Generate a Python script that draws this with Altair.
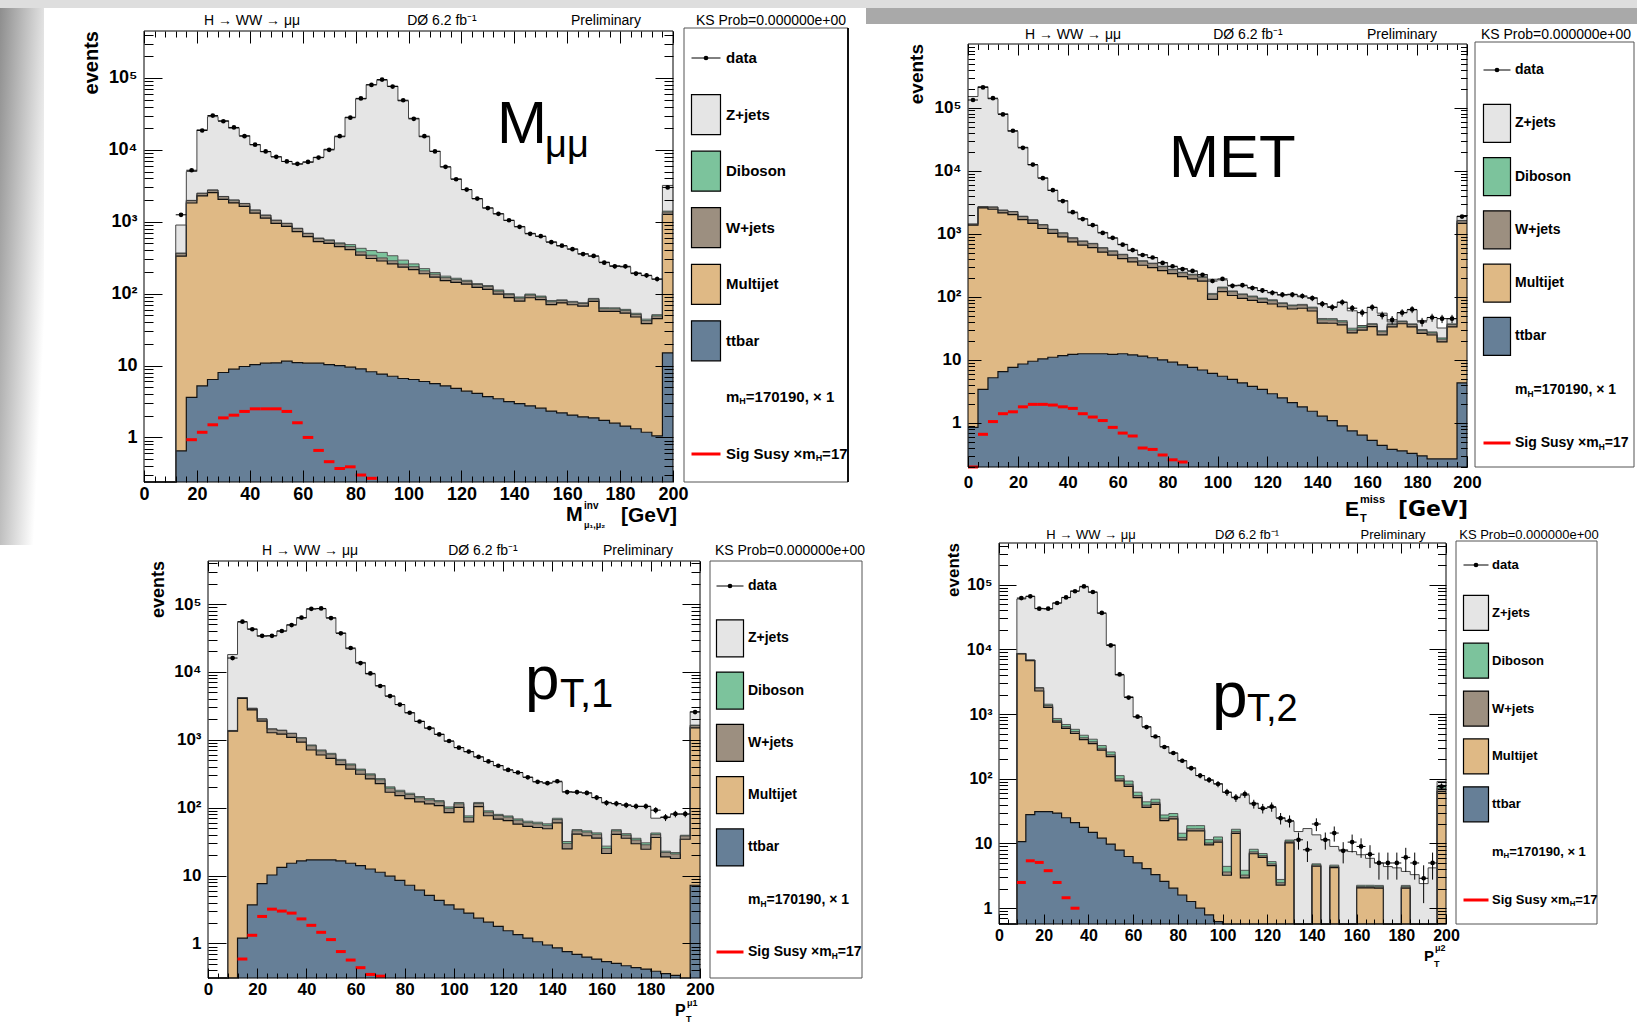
import altair as alt
import numpy as np
import pandas as pd

FONT = "Liberation Sans"
WIDE = "DejaVu Sans"
W, H = 1637, 1023
BIN_LO = list(range(0, 200, 4))
BIN_W = 4
FLOOR = 1e-3

COL = dict(zjets="#e5e5e5", diboson="#7cc39c", wjets="#9c8f80",
           multijet="#dfb985", ttbar="#667f97")

# ---------------- Panel 1 : M_mumu ----------------
m_data = [0, 0, 0, 1250, 5200, 18600, 30000, 25000, 20500, 15500, 11800, 9500, 8000, 6900, 6400, 6800, 7800, 10000, 15500, 28000, 52000, 80000, 95000, 76000, 49000, 27000, 15500, 9500, 5800, 3900, 2800, 2100, 1550, 1290, 1050, 850, 680, 630, 520, 465, 415, 355, 335, 270, 240, 240, 190, 180, 160, 3000]
m_total = [0, 0, 0, 900, 5000, 19000, 29000, 25500, 20000, 15800, 11800, 9400, 8000, 6900, 6300, 6700, 7900, 10200, 15200, 28500, 51000, 81000, 93000, 77000, 48000, 27500, 15200, 9600, 5800, 3950, 2800, 2080, 1560, 1290, 1040, 860, 690, 625, 525, 460, 420, 360, 330, 275, 245, 235, 195, 178, 158, 3200]
m_ttbar = [0, 0, 0, 0.65, 3.6, 5.2, 6.4, 8.0, 8.9, 9.7, 10.3, 10.8, 10.9, 11.5, 11.0, 10.8, 10.8, 10.3, 10.0, 9.5, 9.0, 8.2, 7.6, 7.1, 6.6, 6.4, 6.0, 5.6, 5.2, 4.8, 4.4, 4.1, 3.7, 3.45, 3.15, 2.95, 2.75, 2.55, 2.33, 2.2, 2.05, 1.93, 1.87, 1.73, 1.58, 1.44, 1.32, 1.18, 1.05, 15]
m_multijet = [0, 0, 0, 333, 1820, 2280, 2530, 2040, 1820, 1630, 1310, 1110, 940, 850, 720, 610, 520, 490, 440, 400, 335, 300, 277, 253, 227, 210, 183, 164, 147, 139, 131, 118, 111, 95, 85, 76, 85, 80, 68, 72, 68, 65, 76, 55, 55, 52, 46, 37, 44, 1250]
m_wjets = [0, 0, 0, 30, 150, 200, 220, 190, 170, 150, 130, 110, 95, 85, 75, 65, 55, 50, 45, 42, 38, 34, 30, 27, 24, 21, 19, 17, 15, 14, 13, 12, 11, 10, 9, 8, 8, 7, 7, 6, 6, 6, 6, 5, 5, 5, 4, 4, 4, 100]
m_diboson = [0, 0, 0, 3, 10, 12, 12, 10, 10, 9, 8, 8, 7, 7, 7, 7, 8, 10, 14, 30, 45, 55, 60, 50, 35, 22, 15, 10, 8, 6, 5, 4, 4, 4, 3, 3, 3, 3, 3, 2, 2, 2, 2, 2, 2, 2, 2, 2, 2, 40]
m_signal = [0, 0, 0, 0, 0.93, 1.18, 1.5, 1.87, 2.04, 2.3, 2.5, 2.5, 2.5, 2.3, 1.6, 1.0, 0.66, 0.46, 0.37, 0.39, 0.30, 0.27, 0, 0, 0, 0, 0, 0, 0, 0, 0, 0, 0, 0, 0, 0, 0, 0, 0, 0, 0, 0, 0, 0, 0, 0, 0, 0, 0, 0]

# ---------------- Panel 2 : MET ----------------
e_data = [132000, 209000, 141000, 78000, 43000, 23000, 12500, 7600, 4900, 3300, 2200, 1710, 1370, 1030, 860, 670, 550, 460, 420, 345, 305, 275, 257, 223, 178, 192, 149, 153, 138, 126, 116, 108, 108, 103, 95, 77, 68, 82, 66, 56, 68, 51, 43, 56, 63, 40, 47, 45, 45, 1870]
e_total = [150000, 215000, 138000, 80000, 42000, 23500, 12300, 7700, 4850, 3350, 2150, 1730, 1350, 1050, 850, 680, 545, 465, 415, 350, 300, 280, 255, 225, 190, 185, 152, 150, 140, 125, 118, 106, 110, 100, 97, 78, 70, 82, 60, 35, 68, 55, 40, 56, 62, 42, 47, 32, 45, 1900]
e_ttbar = [0.85, 3.4, 5.2, 6.5, 7.6, 8.6, 9.5, 10.4, 11.0, 11.7, 12.2, 12.5, 12.5, 12.5, 12.2, 12.5, 12.0, 11.5, 10.8, 10.0, 9.2, 8.3, 7.6, 6.9, 6.1, 5.5, 4.9, 4.3, 3.8, 3.4, 2.9, 2.5, 2.1, 1.8, 1.53, 1.28, 1.09, 0.9, 0.75, 0.64, 0.53, 0.44, 0.38, 0.36, 0.33, 0.30, 0.27, 0.27, 0.27, 4.3]
e_multijet = [1370, 2560, 2440, 2130, 2000, 1660, 1450, 1200, 1000, 880, 730, 645, 590, 500, 445, 390, 345, 305, 280, 250, 223, 200, 185, 170, 85, 115, 100, 90, 84, 78, 74, 67, 62, 64, 58, 37, 37, 35, 26, 29, 33, 24.5, 33, 37, 33, 26, 24.5, 19, 33, 1450]
e_wjets = [50, 120, 200, 220, 230, 210, 190, 170, 150, 130, 110, 100, 90, 80, 70, 62, 55, 50, 45, 40, 36, 32, 30, 27, 18, 18, 16, 14, 12, 11, 10, 9, 8, 8, 7, 5, 5, 4, 3, 3, 3, 3, 3, 3, 3, 3, 2, 2, 3, 150]
e_diboson = [5, 10, 12, 14, 15, 16, 16, 16, 15, 14, 13, 12, 11, 10, 9, 8, 7, 7, 6, 6, 5, 5, 5, 4, 4, 4, 3, 3, 3, 3, 3, 2, 2, 2, 2, 2, 2, 2, 2, 2, 1, 1, 1, 1, 1, 1, 1, 1, 1, 20]
e_signal = [0.2, 0.66, 1.05, 1.4, 1.5, 1.8, 1.97, 1.97, 1.92, 1.8, 1.7, 1.4, 1.24, 1.09, 0.85, 0.69, 0.62, 0.40, 0.38, 0.31, 0.26, 0.24, 0, 0, 0, 0, 0, 0, 0, 0, 0, 0, 0, 0, 0, 0, 0, 0, 0, 0, 0, 0, 0, 0, 0, 0, 0, 0, 0, 0]

# ---------------- Panel 3 : pT leading muon ----------------
p1_data = [0, 0, 16000, 55000, 42500, 34000, 34000, 40000, 49000, 63000, 85000, 86000, 62000, 37000, 22500, 13500, 9500, 6200, 4400, 3300, 2500, 1860, 1490, 1200, 960, 765, 670, 560, 480, 415, 360, 330, 280, 240, 230, 245, 170, 170, 165, 141, 118, 115, 109, 105, 105, 92, 72, 81, 81, 2560]
p1_total = [0, 0, 18000, 54000, 43000, 33500, 34000, 40000, 49500, 62000, 84000, 85000, 63000, 37500, 22000, 13800, 9300, 6300, 4400, 3300, 2500, 1880, 1480, 1210, 950, 770, 665, 560, 480, 418, 360, 328, 282, 242, 232, 240, 172, 168, 165, 140, 120, 114, 110, 104, 104, 70, 73, 80, 80, 2600]
p1_ttbar = [0, 0, 0, 1.2, 3.7, 7.6, 10.2, 13.2, 15.2, 16.5, 17, 17, 17, 16.5, 15.2, 14, 12.5, 11.2, 9.8, 8.5, 7.2, 6.1, 5.1, 4.3, 3.7, 3.2, 2.8, 2.36, 2.06, 1.78, 1.54, 1.35, 1.2, 1.06, 0.95, 0.86, 0.76, 0.69, 0.63, 0.59, 0.54, 0.51, 0.47, 0.44, 0.42, 0.39, 0.36, 0.34, 0.27, 7.2]
p1_multijet = [0, 0, 1340, 4070, 2750, 1870, 1260, 1200, 1070, 910, 690, 580, 515, 415, 355, 297, 253, 215, 159, 142, 129, 116, 109, 103, 81, 98, 59, 101, 74, 66, 63, 56, 52, 50, 48, 59, 24, 40, 38, 35, 20.6, 40, 35, 29, 24, 36, 18.5, 17.5, 34, 1490]
p1_wjets = [0, 0, 30, 100, 150, 150, 170, 160, 150, 130, 110, 90, 80, 65, 55, 45, 38, 32, 25, 22, 20, 18, 16, 15, 13, 13, 10, 12, 10, 9, 8, 8, 7, 7, 6, 7, 5, 5, 5, 5, 4, 5, 4, 4, 4, 4, 3, 3, 4, 120]
p1_diboson = [0, 0, 2, 5, 8, 10, 12, 14, 16, 20, 22, 22, 20, 18, 16, 14, 12, 10, 9, 8, 7, 6, 6, 5, 5, 5, 4, 4, 4, 3, 3, 3, 3, 3, 3, 3, 2, 2, 2, 2, 2, 2, 2, 2, 2, 2, 1, 1, 1, 30]
p1_signal = [0, 0, 0, 0.59, 1.32, 2.5, 3.2, 3.0, 2.8, 2.3, 1.85, 1.46, 1.14, 0.76, 0.57, 0.44, 0.35, 0.33, 0, 0, 0, 0, 0, 0, 0, 0, 0, 0, 0, 0, 0, 0, 0, 0, 0, 0, 0, 0, 0, 0, 0, 0, 0, 0, 0, 0, 0, 0, 0, 0]

# ---------------- Panel 4 : pT second muon ----------------
p2_data = [0, 0, 62000, 66000, 42500, 42500, 52000, 63500, 79000, 94000, 77000, 36500, 11500, 4100, 1800, 910, 630, 450, 310, 250, 190, 146, 112, 96, 83, 62, 51, 58, 41, 35, 37, 24.6, 22.4, 11.4, 8, 20, 11.4, 14.5, 7.7, 10.5, 9, 6.8, 5, 5, 5, 6.1, 5, 2.9, 5, 76]
p2_total = [0, 0, 60000, 66000, 43000, 42000, 52000, 63000, 80000, 92000, 76000, 36000, 11800, 4000, 1850, 900, 640, 445, 315, 250, 190, 148, 112, 95, 84, 62, 52, 56, 42, 35, 36, 25, 22, 15.3, 17, 13.6, 11.4, 9, 8, 7.5, 6.7, 5.9, 5, 4.4, 4.2, 3.7, 3.3, 2.4, 4.2, 91]
p2_ttbar = [0, 0, 10.7, 28, 31, 31, 29.5, 25, 21, 17.8, 14.8, 12.1, 9.8, 7.9, 6.3, 5.0, 4.1, 3.3, 2.6, 2.04, 1.6, 1.27, 1.0, 0.79, 0.62, 0.48, 0.38, 0.3, 0.24, 0.19, 0.15, 0.12, 0.1, 0.08, 0.06, 0.05, 0.04, 0.03, 0.03, 0.02, 0.02, 0.02, 0.01, 0.01, 0.01, 0.01, 0.01, 0.01, 0.01, 0.3]
p2_multijet = [0, 0, 8500, 6650, 2240, 1240, 720, 575, 480, 385, 335, 265, 210, 85, 70, 46, 32, 37, 20, 22, 9.8, 14.4, 14.7, 8.7, 9.9, 2.75, 14, 2.65, 6.7, 5.9, 4.4, 2.16, 10.1, 0, 0, 4.4, 0, 4.2, 0, 0, 2.04, 2.04, 2.04, 0, 0, 2.04, 0, 0, 0, 63]
p2_wjets = [0, 0, 100, 150, 250, 90, 50, 40, 35, 28, 24, 19, 15, 7, 6, 4, 3, 3, 2, 2, 1, 1.2, 1.2, 0.7, 0.8, 0.4, 1, 0.3, 0.5, 0.4, 0.3, 0.2, 0.6, 0, 0, 0.2, 0, 0.2, 0, 0, 0.1, 0.1, 0.1, 0, 0, 0.1, 0, 0, 0, 8]
p2_diboson = [0, 0, 30, 40, 50, 60, 55, 50, 45, 40, 35, 30, 25, 12, 10, 7, 5, 5, 3, 3, 2, 2, 2, 1.3, 1.3, 0.8, 1.2, 0.6, 0.7, 0.5, 0.4, 0.3, 0.5, 0, 0, 0.2, 0, 0.2, 0, 0, 0.1, 0.1, 0.1, 0, 0, 0.1, 0, 0, 0, 6]
p2_signal = [0, 0, 2.5, 5.4, 5.1, 3.8, 2.5, 1.45, 1.0, 0.53, 0, 0, 0, 0, 0, 0, 0, 0, 0, 0, 0, 0, 0, 0, 0, 0, 0, 0, 0, 0, 0, 0, 0, 0, 0, 0, 0, 0, 0, 0, 0, 0, 0, 0, 0, 0, 0, 0, 0, 0]

HEADER = ["H \u2192 WW \u2192 \u03bc\u03bc", "D\u00d8 6.2 fb\u207b\u00b9", "Preliminary", "KS Prob=0.000000e+00"]
ENTRIES = ["data", "Z+jets", "Diboson", "W+jets", "Multijet", "ttbar", "mH", "sig"]
BOX_ENTRIES = ["Z+jets", "Diboson", "W+jets", "Multijet", "ttbar"]
BOX_KEYS = ["zjets", "diboson", "wjets", "multijet", "ttbar"]

# text entries: (text, x, y, size, weight, align, font)
PANELS = [
    dict(data=m_data, total=m_total, ttbar=m_ttbar, multijet=m_multijet, wjets=m_wjets, diboson=m_diboson, signal=m_signal,
         plot=(144, 673, 31, 482), ymin=0.24, ymax=4.5e5, tickfont=18, xlabpad=3, ylabpad=7, xt=12, yt=18,
         legend=(684, 28, 848, 482), shadow=True, ly=(58, 454), boxx=706, boxw=29, boxh=40, labx=726, legfont=15,
         header_y=21, header_x=(252, 442, 606, 771), header_font=14, events=(92, 31, 20),
         texts=[("M", 497, 143, 60, "normal", "left", FONT), ("\u03bc\u03bc", 545, 157, 38, "normal", "left", FONT),
                ("M", 566, 521, 20, "bold", "left", FONT), ("inv", 584, 509, 10, "bold", "left", FONT),
                ("\u03bc\u2081,\u03bc\u2082", 584, 528, 9, "bold", "left", FONT),
                ("[GeV]", 677, 522, 21, "bold", "right", FONT)]),
    dict(data=e_data, total=e_total, ttbar=e_ttbar, multijet=e_multijet, wjets=e_wjets, diboson=e_diboson, signal=e_signal,
         plot=(968, 1467, 44, 467), ymin=0.2, ymax=1.02e6, tickfont=17, xlabpad=7, ylabpad=7, xt=11, yt=13,
         legend=(1475, 42, 1634, 467), shadow=False, ly=(70, 443), boxx=1497, boxw=27, boxh=38, labx=1515, legfont=14,
         header_y=35, header_x=(1073, 1248, 1402, 1556), header_font=14, events=(917, 44, 19),
         texts=[("MET", 1169, 177, 60, "normal", "left", FONT),
                ("E", 1345, 516, 21, "bold", "left", FONT), ("miss", 1360, 503, 11, "bold", "left", FONT),
                ("T", 1360, 522, 11, "bold", "left", FONT), ("[GeV]", 1468, 516, 22, "bold", "right", WIDE)]),
    dict(data=p1_data, total=p1_total, ttbar=p1_ttbar, multijet=p1_multijet, wjets=p1_wjets, diboson=p1_diboson, signal=p1_signal,
         plot=(208, 700, 561, 978), ymin=0.31, ymax=4.3e5, tickfont=17, xlabpad=3, ylabpad=7, xt=10, yt=18,
         legend=(710, 561, 862, 978), shadow=False, ly=(586, 952), boxx=730, boxw=27, boxh=37, labx=748, legfont=14,
         header_y=551, header_x=(310, 483, 638, 790), header_font=14, events=(159, 561, 18),
         texts=[("p", 525, 699, 62, "normal", "left", FONT), ("T,1", 560, 707, 40, "normal", "left", FONT),
                ("P", 675, 1016, 16, "bold", "left", FONT), ("\u03bc1", 687, 1006, 9, "bold", "left", FONT),
                ("T", 686, 1022, 9, "bold", "left", FONT)]),
    dict(data=p2_data, total=p2_total, ttbar=p2_ttbar, multijet=p2_multijet, wjets=p2_wjets, diboson=p2_diboson, signal=p2_signal,
         plot=(999, 1446, 543, 924), ymin=0.57, ymax=4.4e5, tickfont=16, xlabpad=3, ylabpad=7, xt=10, yt=17,
         legend=(1456, 541, 1597, 924), shadow=False, ly=(565, 900), boxx=1476, boxw=25, boxh=35, labx=1492, legfont=13,
         header_y=535, header_x=(1091, 1247, 1393, 1529), header_font=13, events=(954, 543, 17),
         texts=[("p", 1212, 717, 64, "normal", "left", FONT), ("T,2", 1247, 721, 38, "normal", "left", FONT),
                ("P", 1424, 961, 15, "bold", "left", FONT), ("\u03bc2", 1435, 951, 9, "bold", "left", FONT),
                ("T", 1434, 967, 9, "bold", "left", FONT)]),
]

ONE = pd.DataFrame({"k": [0]})
BOLD_W = {"m": 0.889, "H": 0.722, "S": 0.667, "i": 0.278, "g": 0.611, " ": 0.278,
          "u": 0.611, "s": 0.556, "y": 0.556, "\u00d7": 0.584}


def textw(s, size):
    return sum(BOLD_W.get(c, 0.556) for c in s) * size


def txt(s, x, y, size, weight="normal", align="left", baseline="alphabetic", angle=0, color="black", font=FONT):
    return alt.Chart(ONE).mark_text(text=s, font=font, fontSize=size, fontWeight=weight, align=align,
                                    baseline=baseline, color=color, angle=angle).encode(
        x=alt.value(x), y=alt.value(y))


def vrect(x0, y0, x1, y1, **kw):
    return alt.Chart(ONE).mark_rect(**kw).encode(x=alt.value(x0), x2=alt.value(x1),
                                                 y=alt.value(y0), y2=alt.value(y1))


YEXPR = ("datum.value < 3 ? '1' : datum.value < 30 ? '10' : datum.value < 300 ? '10\u00b2' : "
         "datum.value < 3000 ? '10\u00b3' : datum.value < 30000 ? '10\u2074' : "
         "datum.value < 300000 ? '10\u2075' : '10\u2076'")


def build_panel(p):
    L, R, T, B = p["plot"]
    xs = alt.Scale(domain=[0, 200], range=[L, R], nice=False, zero=False)
    ys = alt.Scale(type="log", domain=[p["ymin"], p["ymax"]], range=[B, T], nice=False, clamp=True)
    for k in ("ttbar", "multijet", "wjets", "diboson", "total", "data", "signal"):
        assert len(p[k]) == 50, k
    comps = np.vstack([np.array(p[k], dtype=float) for k in ("ttbar", "multijet", "wjets", "diboson")])
    cum = np.cumsum(comps, axis=0)
    tops = [cum[0], cum[1], cum[2], cum[3], np.maximum(np.array(p["total"], dtype=float), cum[3])]
    edges = pd.DataFrame({"x": BIN_LO + [200]})
    edges["c0"] = FLOOR
    for i, t in enumerate(tops):
        t = np.maximum(t, FLOOR)
        edges[f"c{i+1}"] = list(t) + [t[-1]]
    X = alt.X("x:Q", scale=xs, axis=None)
    base = alt.Chart(edges)
    layers = []
    for top, bot, k in [("c1", "c0", "ttbar"), ("c2", "c1", "multijet"), ("c3", "c2", "wjets"),
                        ("c4", "c3", "diboson"), ("c5", "c4", "zjets")]:
        layers.append(base.mark_area(interpolate="step-after", color=COL[k], opacity=1).encode(
            x=X, y=alt.Y(f"{top}:Q", scale=ys, axis=None), y2=alt.Y2(f"{bot}:Q")))
    for col, color, w in [("c1", "#111111", 1.2), ("c2", "#111111", 1.2), ("c3", "#333333", 0.8),
                          ("c4", "#333333", 0.8), ("c5", "#444444", 1.0)]:
        layers.append(base.mark_line(interpolate="step-after", color=color, strokeWidth=w).encode(
            x=X, y=alt.Y(f"{col}:Q", scale=ys, axis=None)))

    # data points with Poisson errors
    d = pd.DataFrame({"lo": BIN_LO, "v": p["data"]})
    d = d[d.v > 0].copy()
    d["hi"] = d.lo + BIN_W
    d["mid"] = d.lo + BIN_W / 2
    dch = alt.Chart(d).transform_calculate(elo=f"max(datum.v - sqrt(datum.v), {FLOOR})",
                                           ehi="datum.v + sqrt(datum.v)")
    layers.append(dch.mark_rule(color="black", strokeWidth=1).encode(
        x=alt.X("mid:Q", scale=xs, axis=None), y=alt.Y("elo:Q", scale=ys, axis=None), y2="ehi:Q"))
    layers.append(alt.Chart(d).mark_rule(color="black", strokeWidth=1).encode(
        x=alt.X("lo:Q", scale=xs, axis=None), x2="hi:Q", y=alt.Y("v:Q", scale=ys, axis=None)))
    layers.append(alt.Chart(d).mark_point(filled=True, color="black", size=22, opacity=1).encode(
        x=alt.X("mid:Q", scale=xs, axis=None), y=alt.Y("v:Q", scale=ys, axis=None)))

    # signal
    s = pd.DataFrame({"lo": BIN_LO, "v": p["signal"]})
    s = s[s.v >= p["ymin"]].copy()
    s["hi"] = s.lo + BIN_W
    layers.append(alt.Chart(s).mark_rule(color="#ff0000", strokeWidth=3).encode(
        x=alt.X("lo:Q", scale=xs, axis=None), x2="hi:Q", y=alt.Y("v:Q", scale=ys, axis=None)))

    # frame
    fr = pd.DataFrame({"x0": [0], "x1": [200], "y0": [p["ymin"]], "y1": [p["ymax"]]})
    layers.append(alt.Chart(fr).mark_rect(fillOpacity=0, stroke="black", strokeWidth=1).encode(
        x=alt.X("x0:Q", scale=xs, axis=None), x2="x1:Q",
        y=alt.Y("y0:Q", scale=ys, axis=None), y2="y1:Q"))

    # axes (inward ticks on all four sides)
    xmaj = list(range(0, 201, 20))
    xmin = [v for v in range(0, 201, 4) if v % 20]
    ydec = [10.0 ** k for k in range(0, 7) if p["ymin"] <= 10.0 ** k < p["ymax"] * 0.9]
    ymn = [m * 10.0 ** k for k in range(-1, 7) for m in range(2, 10) if p["ymin"] <= m * 10.0 ** k <= p["ymax"]]
    xt, yt = p["xt"], p["yt"]
    common = dict(domain=False, grid=False, ticks=True, tickColor="black", tickWidth=1, title=None, zindex=2)
    lab = dict(labelFont=FONT, labelFontSize=p["tickfont"], labelFontWeight="bold", labelColor="black",
               labelFlush=False, labelOverlap=False)

    def ax_layer(xaxis, yaxis):
        return alt.Chart(fr).mark_point(opacity=0).encode(
            x=alt.X("x0:Q", scale=xs, axis=xaxis), y=alt.Y("y0:Q", scale=ys, axis=yaxis))

    layers.append(ax_layer(
        alt.Axis(orient="bottom", values=xmaj, tickSize=xt, offset=B - xt - H, labelPadding=p["xlabpad"],
                 format="d", **lab, **common),
        alt.Axis(orient="left", values=ydec, tickSize=yt, offset=-(L + yt), labelPadding=p["ylabpad"],
                 labelExpr=YEXPR, **lab, **common)))
    layers.append(ax_layer(
        alt.Axis(orient="bottom", values=xmin, tickSize=xt / 2, offset=B - xt / 2 - H, labels=False, **common),
        alt.Axis(orient="left", values=ymn, tickSize=yt / 2, offset=-(L + yt / 2), labels=False, **common)))
    layers.append(ax_layer(
        alt.Axis(orient="top", values=xmaj, tickSize=xt, offset=-(T + xt), labels=False, **common),
        alt.Axis(orient="right", values=ydec, tickSize=yt, offset=R - yt - W, labels=False, **common)))
    layers.append(ax_layer(
        alt.Axis(orient="top", values=xmin, tickSize=xt / 2, offset=-(T + xt / 2), labels=False, **common),
        alt.Axis(orient="right", values=ymn, tickSize=yt / 2, offset=R - yt / 2 - W, labels=False, **common)))

    # legend
    lx0, ly0, lx1, ly1 = p["legend"]
    layers.append(vrect(lx0, ly0, lx1, ly1, fill="white", stroke="#555555", strokeWidth=1))
    if p["shadow"]:
        layers.append(vrect(lx1 - 1, ly0, lx1 + 1, ly1, color="#111111"))
    lys = alt.Scale(type="point", domain=ENTRIES, range=list(p["ly"]), padding=0)
    LY = alt.Y("entry:N", scale=lys, axis=None)
    bw, bh, bx = p["boxw"], p["boxh"], p["boxx"]
    r = bw / bh
    path = f"M{-r:.3f},-1L{r:.3f},-1L{r:.3f},1L{-r:.3f},1Z"
    boxes = pd.DataFrame({"entry": BOX_ENTRIES, "fill": [COL[k] for k in BOX_KEYS]})
    layers.append(alt.Chart(boxes).mark_point(shape=path, filled=True, size=bh * bh, stroke="black",
                                              strokeWidth=1.2, opacity=1).encode(
        x=alt.value(bx), y=LY, fill=alt.Fill("fill:N", scale=None)))
    labs = pd.DataFrame({"entry": ["data"] + BOX_ENTRIES, "label": ["data"] + BOX_ENTRIES})
    layers.append(alt.Chart(labs).mark_text(align="left", baseline="middle", font=FONT, fontSize=p["legfont"],
                                            fontWeight="bold", color="black").encode(
        x=alt.value(p["labx"]), y=LY, text="label:N"))
    dl = pd.DataFrame({"entry": ["data"]})
    layers.append(alt.Chart(dl).mark_rule(color="black", strokeWidth=1).encode(
        x=alt.value(bx - bw / 2), x2=alt.value(bx + bw / 2), y=LY))
    layers.append(alt.Chart(dl).mark_point(filled=True, color="black", size=22, opacity=1).encode(
        x=alt.value(bx), y=LY))
    sl = pd.DataFrame({"entry": ["sig"]})
    layers.append(alt.Chart(sl).mark_rule(color="#ff0000", strokeWidth=3).encode(
        x=alt.value(bx - bw / 2), x2=alt.value(bx + bw / 2), y=LY))
    fs = p["legfont"]
    for entry, head, tail in [("mH", "m", "=170190, \u00d7 1"), ("sig", "Sig Susy \u00d7m", "=17")]:
        ed = pd.DataFrame({"entry": [entry]})
        w1 = textw(head, fs)
        wh = textw("H", fs * 0.6)
        for s_, dx, dy, size in [(head, 0, 0, fs), ("H", w1, 4, fs * 0.6), (tail, w1 + wh, 0, fs)]:
            layers.append(alt.Chart(ed).mark_text(text=s_, align="left", baseline="middle", font=FONT,
                                                  fontSize=size, fontWeight="bold", color="black", dy=dy).encode(
                x=alt.value(p["labx"] + dx), y=LY))

    # header line
    for s_, hx in zip(HEADER, p["header_x"]):
        layers.append(txt(s_, hx, p["header_y"], p["header_font"], align="center", baseline="middle"))
    ex, ey, efs = p["events"]
    layers.append(txt("events", ex, ey, efs, weight="bold", align="right", baseline="middle", angle=270))
    for s_, tx, ty, size, weight, align, font in p["texts"]:
        layers.append(txt(s_, tx, ty, size, weight=weight, align=align, font=font))
    return layers


# slide background decoration
grad = alt.LinearGradient(gradient="linear",
                          stops=[alt.GradientStop(color="#8e8e8e", offset=0),
                                 alt.GradientStop(color="#ffffff", offset=1)],
                          x1=0, x2=1, y1=0, y2=0.6)
layers = [
    vrect(0, 0, W, 8, color="#dedede"),
    vrect(866, 8, W, 24, color="#a9a9a9"),
    vrect(0, 8, 44, 545, color=grad),
]
for p in PANELS:
    layers += build_panel(p)

chart = (alt.layer(*layers)
         .resolve_scale(x="independent", y="independent")
         .properties(width=W, height=H, autosize=alt.AutoSizeParams(type="none"), padding=0,
                     background="white")
         .configure_view(stroke=None))

chart.save("out.html", embed_options={"renderer": "svg", "actions": False})
